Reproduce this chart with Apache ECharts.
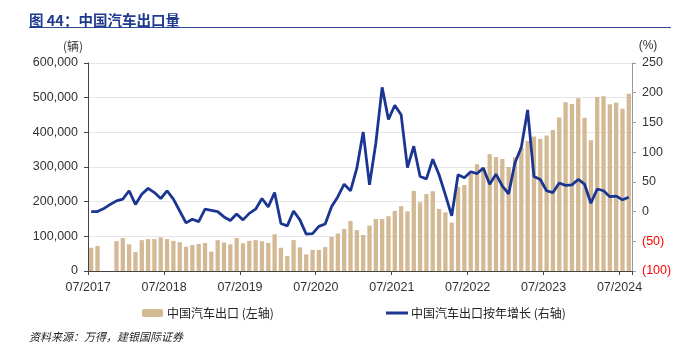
<!DOCTYPE html>
<html>
<head>
<meta charset="utf-8">
<script src="https://cdn.jsdelivr.net/npm/echarts@6/dist/echarts.min.js"></script>
<style>
  html, body { margin: 0; padding: 0; background: #fff; }
  #chart { width: 679px; height: 352px; }
</style>
</head>
<body>
<div id="chart"></div>
<script>
// months 07/2017 .. 08/2024
const startYear = 2017;
const startMonth = 7;
const monthCount = 86;
const categories = [];
for (let i = 0; i < monthCount; i++) {
  const m = ((startMonth - 1 + i) % 12) + 1;
  const y = startYear + Math.floor((startMonth - 1 + i) / 12);
  categories.push((m < 10 ? "0" + m : "" + m) + "/" + y);
}

// 中国汽车出口 (辆)
const exportsVol = [
  67000, 72000, null, null, 86000, 95000, 77000, 55000, 89000, 92000, 92000, 97000,
  92000, 87000, 83000, 70000, 75000, 78000, 81000, 56000, 89000, 82000, 77000, 95000,
  80000, 87000, 89000, 86000, 81000, 106000, 67000, 43000, 89000, 68000, 48000, 61000,
  61000, 69000, 98000, 108000, 121000, 144000, 118000, 104000, 131000, 150000, 150000, 158000,
  173000, 187000, 172000, 231000, 198000, 222000, 230000, 179000, 169000, 140000, 243000, 248000,
  280000, 308000, 299000, 337000, 329000, 323000, 300000, 328000, 355000, 375000, 388000, 381000,
  391000, 407000, 443000, 487000, 482000, 498000, 442000, 377000, 502000, 504000, 481000, 485000,
  468000, 511000
];

// 中国汽车出口按年增长 (%)
const yoyGrowth = [
  0, 0, 5, 12, 18, 21, 35, 12, 29, 39, 32, 22,
  35, 21, 1, -19, -13, -17, 4, 2, 0, -9, -15, -4,
  -14, -3, 4, 22, 8, 32, -20, -24, 1, -14, -38, -37,
  -25, -21, 8, 25, 46, 35, 73, 134, 45, 115, 209, 155,
  179, 163, 74, 110, 59, 55, 88, 62, 28, -7, 62, 57,
  67, 64, 73, 46, 63, 43, 30, 82, 108, 171, 59, 54,
  35, 32, 48, 44, 45, 54, 46, 14, 38, 35, 25, 26,
  20, 24
];

const barName = "中国汽车出口 (左轴)";
const lineName = "中国汽车出口按年增长 (右轴)";

const numFont = "'Liberation Sans', 'Noto Sans CJK SC', sans-serif";
const cjkFont = "'Noto Sans CJK SC', sans-serif";

const myChart = echarts.init(document.getElementById("chart"), null, { renderer: "canvas" });

myChart.setOption({
  animation: false,
  backgroundColor: "#ffffff",
  title: {
    text: "图 44：中国汽车出口量",
    left: 24,
    top: 8,
    textStyle: { fontFamily: cjkFont, fontSize: 14.5, fontWeight: "bold", color: "#1F3A8F" }
  },
  graphic: [
    {
      type: "line",
      shape: { x1: 29, y1: 27.5, x2: 671, y2: 27.5 },
      style: { stroke: "#2C4A96", lineWidth: 1.2 }
    },
    {
      type: "text",
      x: 73, y: 46,
      style: { text: "(辆)", fontFamily: cjkFont, fontSize: 12, fill: "#333", align: "center", verticalAlign: "middle" }
    },
    {
      type: "text",
      x: 648, y: 46,
      style: { text: "(%)", fontFamily: numFont, fontSize: 12, fill: "#333", align: "center", verticalAlign: "middle" }
    },
    {
      type: "text",
      x: 29, y: 337,
      style: { text: "资料来源：万得，建银国际证券", fontFamily: cjkFont, fontSize: 11, fontStyle: "italic", fill: "#222", verticalAlign: "middle" }
    }
  ],
  legend: [
    {
      data: [barName],
      left: 137,
      top: 302,
      itemWidth: 21,
      itemHeight: 8,
      textStyle: { fontFamily: cjkFont, fontSize: 12, color: "#222", padding: [0, 0, 0, -1] }
    },
    {
      data: [{ name: lineName, icon: "rect" }],
      left: 381,
      top: 302,
      itemWidth: 22,
      itemHeight: 3,
      textStyle: { fontFamily: cjkFont, fontSize: 12, color: "#222", padding: [0, 0, 0, -2] }
    }
  ],
  grid: { left: 88, right: 47, top: 63, bottom: 81, containLabel: false },
  xAxis: {
    type: "category",
    data: categories,
    boundaryGap: true,
    axisLine: { show: true, lineStyle: { color: "#444", width: 1 } },
    axisTick: { show: true, interval: 11, length: 4, lineStyle: { color: "#444" } },
    axisLabel: {
      interval: 11,
      margin: 10,
      fontFamily: numFont,
      fontSize: 12.5,
      color: "#333",
      padding: [0, 6, 0, 0]
    },
    splitLine: { show: false }
  },
  yAxis: [
    {
      type: "value",
      min: 0,
      max: 600000,
      interval: 100000,
      position: "left",
      axisLine: { show: true, lineStyle: { color: "#444" } },
      axisTick: { show: true, length: 4, lineStyle: { color: "#444" } },
      splitLine: { show: true, lineStyle: { color: "#e6e6e6", width: 1 } },
      axisLabel: {
        margin: 10,
        fontFamily: numFont,
        fontSize: 12.5,
        color: "#333",
        formatter: (v) => v.toLocaleString("en-US")
      }
    },
    {
      type: "value",
      min: -100,
      max: 250,
      interval: 50,
      position: "right",
      axisLine: { show: true, lineStyle: { color: "#999" } },
      axisTick: { show: true, length: 4, lineStyle: { color: "#999" } },
      splitLine: { show: false },
      axisLabel: {
        margin: 10,
        fontFamily: numFont,
        fontSize: 12.5,
        color: (v) => (Number(v) < 0 ? "#FF0000" : "#333"),
        formatter: (v) => (v < 0 ? "(" + Math.abs(v) + ")" : "" + v)
      }
    }
  ],
  series: [
    {
      name: barName,
      type: "bar",
      yAxisIndex: 0,
      data: exportsVol,
      barCategoryGap: "32%",
      itemStyle: { color: "#D3B994" }
    },
    {
      name: lineName,
      type: "line",
      yAxisIndex: 1,
      data: yoyGrowth,
      symbol: "none",
      showSymbol: false,
      lineStyle: { color: "#1B3592", width: 2.8 },
      itemStyle: { color: "#1B3592" },
      z: 3
    }
  ]
});
</script>
</body>
</html>
